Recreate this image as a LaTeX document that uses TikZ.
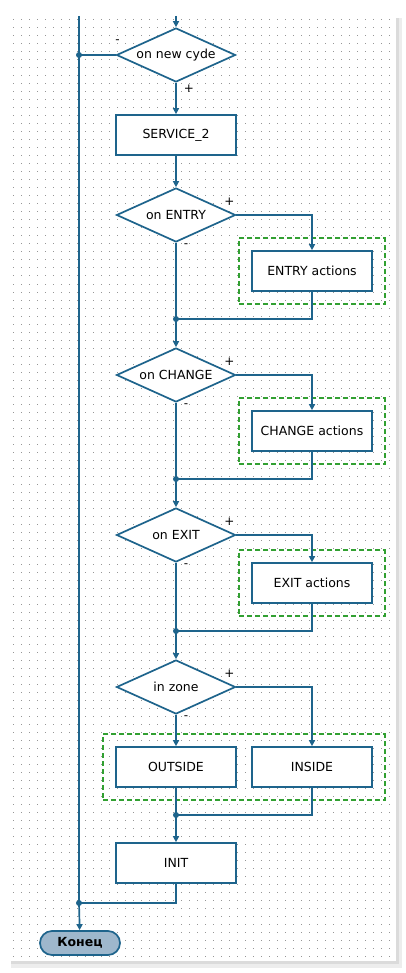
\documentclass[tikz,border=0pt]{standalone}
\usepackage{fontspec}
\setmainfont{DejaVu Sans}
\usepackage{tikz}
\usetikzlibrary{arrows.meta,shapes,positioning,fit}
\usepackage{xcolor}
\definecolor{fcblue}{RGB}{30,100,140}
\definecolor{fcgreen}{RGB}{50,160,50}
\definecolor{fcgray}{RGB}{158,183,204}
\definecolor{fcdots}{RGB}{150,150,150}
\tikzstyle{flow} = [line width=1.7pt,color=fcblue]
\tikzstyle{arrow} = [line width=1.7pt,-{Triangle[length=6pt,width=6pt]},color=fcblue]
\tikzstyle{action} = [rectangle, minimum width=120pt, minimum height=40pt, text centered, draw=fcblue, fill=white, line width=1.7pt, font=\fontsize{12.5}{14}\selectfont]
\tikzstyle{decision} = [diamond, aspect=2.2, minimum width=119pt, minimum height=54pt, inner sep=0pt, text centered, draw=fcblue, fill=white, line width=1.7pt, font=\fontsize{12.5}{14}\selectfont]
\tikzstyle{terminal} = [rectangle, rounded corners=12pt, minimum width=80pt, minimum height=24pt, draw=fcblue, fill=fcgray, line width=1.7pt, font=\fontsize{12.5}{14}\selectfont\bfseries]
\tikzstyle{group} = [draw=fcgreen, line width=1.7pt, dash pattern=on 5pt off 3pt, inner sep=12pt]
\tikzstyle{junction} = [circle, fill=fcblue, inner sep=0pt, minimum size=6pt]
\tikzstyle{sign} = [font=\fontsize{12}{12}\selectfont, text=black, inner sep=0pt]
\tikzstyle{griddot} = [color=fcdots, line width=1pt, dash pattern=on 1pt off 7pt]

\begin{document}
\begin{tikzpicture}[x=1pt,y=-1pt]
\useasboundingbox (0,0) rectangle (406,973);
% Panel with shadow and dotted grid
\fill[black!7] (11,18) rectangle (402,968);
\fill[black!14] (11,18) rectangle (399,964);
\fill[white] (9,16) rectangle (396,961);
\foreach \y in {20,28,...,956}
  \draw[griddot] (13,\y) -- (394,\y);

% Blocks
\node[decision] (cycle) at (176,55) {on new cyde};
\node[action] (service) at (176,135) {SERVICE\_2};
\node[decision] (entry) at (176,215) {on ENTRY};
\node[action] (entryact) at (312,271) {ENTRY actions};
\node[decision] (change) at (176,375) {on CHANGE};
\node[action] (changeact) at (312,431) {CHANGE actions};
\node[decision] (exit) at (176,535) {on EXIT};
\node[action] (exitact) at (312,583) {EXIT actions};
\node[decision] (zone) at (176,687) {in zone};
\node[action] (outside) at (176,767) {OUTSIDE};
\node[action] (inside) at (312,767) {INSIDE};
\node[action] (init) at (176,863) {INIT};
\node[terminal] (finish) at (80,943) {Конец};

% Action groups
\node[group, fit=(entryact)] (entrygroup) {};
\node[group, fit=(changeact)] (changegroup) {};
\node[group, fit=(exitact)] (exitgroup) {};
\node[group, fit=(outside) (inside)] (zonegroup) {};

% Junctions
\coordinate (top) at (176,16);
\coordinate (ltop) at (79,16);
\node[junction] (jcycle) at (79,55) {};
\node[junction] (jentry) at (176,319) {};
\node[junction] (jchange) at (176,479) {};
\node[junction] (jexit) at (176,631) {};
\node[junction] (jzone) at (176,815) {};
\node[junction] (jend) at (79,903) {};

% Connectors
\draw[arrow] (top) -- (cycle);
\draw[flow] (ltop) -- (jend.center);
\draw[arrow] (jend.center) -- (finish);
\draw[flow] (cycle.west) -- (jcycle.center);
\draw[arrow] (cycle) -- (service);
\draw[arrow] (service) -- (entry);

\draw[arrow] (entry.east) -| (entryact.north);
\draw[flow] (entryact.south) |- (jentry.center);
\draw[flow] (entry.south) -- (jentry.center);
\draw[arrow] (jentry.center) -- (change);

\draw[arrow] (change.east) -| (changeact.north);
\draw[flow] (changeact.south) |- (jchange.center);
\draw[flow] (change.south) -- (jchange.center);
\draw[arrow] (jchange.center) -- (exit);

\draw[arrow] (exit.east) -| (exitact.north);
\draw[flow] (exitact.south) |- (jexit.center);
\draw[flow] (exit.south) -- (jexit.center);
\draw[arrow] (jexit.center) -- (zone);

\draw[arrow] (zone.east) -| (inside.north);
\draw[arrow] (zone) -- (outside);
\draw[flow] (inside.south) |- (jzone.center);
\draw[flow] (outside.south) -- (jzone.center);
\draw[arrow] (jzone.center) -- (init);
\draw[flow] (init.south) |- (jend.center);

% Branch signs
\node[sign] (cycleminus) at ([shift={(2,-13)}]cycle.west) {-};
\node[sign] (cycleplus) at ([shift={(13,6)}]cycle.south) {+};
\node[sign] (entryplus) at ([shift={(-7,-13)}]entry.east) {+};
\node[sign] (entryminus) at ([shift={(10,3)}]entry.south) {-};
\node[sign] (changeplus) at ([shift={(-7,-13)}]change.east) {+};
\node[sign] (changeminus) at ([shift={(10,3)}]change.south) {-};
\node[sign] (exitplus) at ([shift={(-7,-13)}]exit.east) {+};
\node[sign] (exitminus) at ([shift={(10,3)}]exit.south) {-};
\node[sign] (zoneplus) at ([shift={(-7,-13)}]zone.east) {+};
\node[sign] (zoneminus) at ([shift={(10,3)}]zone.south) {-};
\end{tikzpicture}
\end{document}
